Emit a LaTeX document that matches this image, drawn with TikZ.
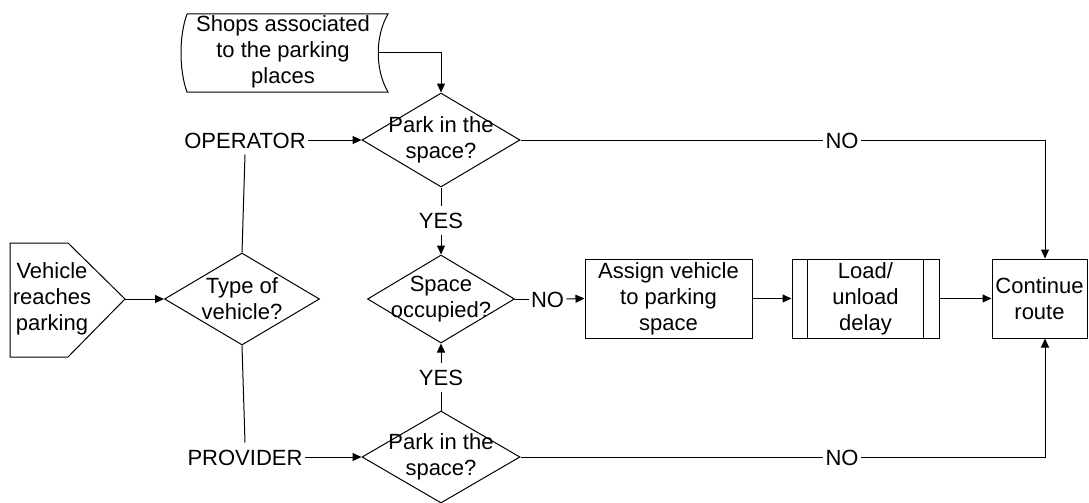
\documentclass[tikz,border=0pt]{standalone}
\usepackage{fontspec}
\setmainfont{Liberation Sans}
\usetikzlibrary{shapes.geometric,arrows.meta}
\begin{document}
\begin{tikzpicture}[x=1pt,y=-1pt,line width=1pt,
  txt/.style={font=\fontsize{22}{26}\selectfont,align=center,inner sep=0pt},
  lbl/.style={font=\fontsize{22}{26}\selectfont,inner xsep=2pt,inner ysep=6pt,text height=16pt,text depth=0pt},
  dia/.style={draw,diamond,inner sep=0pt},
  boxst/.style={draw,minimum height=79pt,inner sep=0pt},
  arr/.style={-{Triangle[length=9pt,width=8pt]}}]
\useasboundingbox (0,0) rectangle (1089,503);
% shops (stored data)
\draw (187,14) -- (388,14) .. controls (375,36) and (375,70) .. (388,92)
      -- (187,92) .. controls (179,70) and (179,36) .. (187,14);
\node[txt] (shops) at (283,52) {Shops associated\\to the parking\\places};
\coordinate (shopsout) at (378,53);
% vehicle reaches parking
\draw (10,243) -- (68,243) -- (125,299) -- (68,357) -- (10,357) -- cycle;
\node[txt] (veh) at (52,299) {Vehicle\\reaches\\parking};
\coordinate (vtip) at (125,299);
% diamonds
\node[dia,minimum width=155pt,minimum height=92pt] (typ) at (242,299) {};
\node[txt] at (typ) {Type of\\vehicle?};
\node[dia,minimum width=158pt,minimum height=94pt] (d1) at (441,140) {};
\node[txt] at (d1) {Park in the\\space?};
\node[dia,minimum width=147pt,minimum height=88pt] (d2) at (441,299) {};
\node[txt] at (d2) {Space\\occupied?};
\node[dia,minimum width=158pt,minimum height=92pt] (d3) at (441,457) {};
\node[txt] at (d3) {Park in the\\space?};
% boxes
\node[boxst,minimum width=167pt,txt] (asg) at (668.5,298.5) {Assign vehicle\\to parking\\space};
\node[boxst,draw,minimum width=147pt,minimum height=79pt] (load) at (865.5,298.5) {};
\node[txt] at (load) {Load/\\unload\\delay};
\draw ([xshift=16pt]load.north west) -- ([xshift=16pt]load.south west);
\draw ([xshift=-16pt]load.north east) -- ([xshift=-16pt]load.south east);
\node[boxst,draw,minimum width=95pt,minimum height=79pt] (cont) at (1039.5,298.5) {};
\node[txt] at (cont) {Continue\\route};
% labels
\node[lbl] (op) at (245,140) {OPERATOR};
\node[lbl] (pr) at (245,457) {PROVIDER};
\node[lbl] (yes1) at (441,220) {YES};
\node[lbl] (yes2) at (441,377) {YES};
\node[lbl] (no0) at (547.5,299) {NO};
\node[lbl] (no1) at (842,140) {NO};
\node[lbl] (no2) at (842,457) {NO};
% connectors
\draw[arr] (shopsout) -| (d1.north);
\draw[arr] (vtip) -- (typ.west);
\draw (typ.north) -- (op.south);
\draw (typ.south) -- (pr.north);
\draw[arr] (op.east) -- (d1.west);
\draw[arr] (pr.east) -- (d3.west);
\draw (d1.south) -- (yes1.north);
\draw[arr] (yes1.south) -- (d2.north);
\draw (d3.north) -- (yes2.south);
\draw[arr] (yes2.north) -- (d2.south);
\draw (d2.east) -- (no0.west);
\draw[arr] (no0.east) -- (asg.west);
\draw[arr] (asg.east) -- (load.west);
\draw[arr] (load.east) -- (cont.west);
\draw (d1.east) -- (no1.west);
\draw[arr] (no1.east) -| ([xshift=5.5pt]cont.north);
\draw (d3.east) -- (no2.west);
\draw[arr] (no2.east) -| ([xshift=5.5pt]cont.south);
\end{tikzpicture}
\end{document}
